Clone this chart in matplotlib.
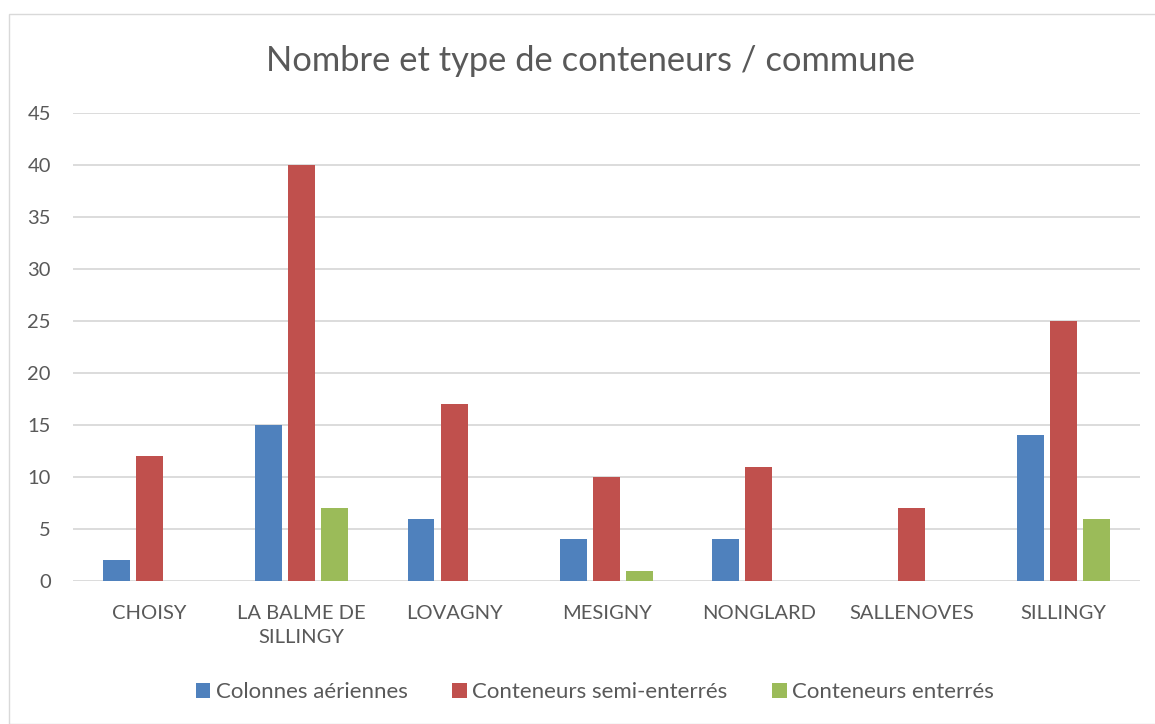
import matplotlib
matplotlib.use("Agg")
import matplotlib.pyplot as plt
import numpy as np
from matplotlib.patches import Rectangle

plt.rcParams['font.family'] = ['Lato', 'DejaVu Sans']

communes = ["CHOISY", "LA BALME DE\nSILLINGY", "LOVAGNY", "MESIGNY", "NONGLARD", "SALLENOVES", "SILLINGY"]
series_names = ["Colonnes aériennes", "Conteneurs semi-enterrés", "Conteneurs enterrés"]
colonnes = [2, 15, 6, 4, 4, 0, 14]
semi_enterres = [12, 40, 17, 10, 11, 7, 25]
enterres = [0, 7, 0, 1, 0, 0, 6]
colors = ["#4F81BD", "#C0504D", "#9BBB59"]
yticks = [0, 5, 10, 15, 20, 25, 30, 35, 40, 45]

W, H = 1155, 724
fig = plt.figure(figsize=(W/100, H/100), dpi=100)
fig.patches.append(Rectangle((9/W, 0), 1.2, 1 - 14/H, transform=fig.transFigure,
                             fill=False, edgecolor="#D9D9D9", linewidth=1))

ax = fig.add_axes([73/W, 1 - 581/H, (1140-73)/W, (581-113)/H])
x = np.arange(len(communes))
bw = 0.177
step = 0.217
for i, (vals, c, n) in enumerate(zip([colonnes, semi_enterres, enterres], colors, series_names)):
    ax.bar(x + (i-1)*step, vals, width=bw, color=c, label=n, zorder=3)

ax.set_xlim(-0.5, len(communes)-0.5)
ax.set_ylim(0, 45)
ax.set_yticks(yticks)
ax.grid(axis='y', color="#D9D9D9", linewidth=1.3, zorder=0)
for s in ax.spines.values():
    s.set_visible(False)
ax.tick_params(axis='both', length=0, labelcolor="#595959", labelsize=14.5)
ax.tick_params(axis='y', pad=16)
ax.tick_params(axis='x', pad=17)
ax.set_xticks(x)
ax.set_xticklabels(communes, linespacing=1.55)

fig.text(590/W, 1 - 61/H, "Nombre et type de conteneurs / commune", ha='center', va='center',
         fontsize=24.8, color="#595959")

leg = fig.legend(loc='center', bbox_to_anchor=(595/W, 1 - 692/H), ncol=3, frameon=False,
                 fontsize=16, handlelength=0.65, handleheight=0.65, handletextpad=0.25,
                 columnspacing=2.0, labelcolor="#595959")

fig.savefig("out.png", dpi=100)
